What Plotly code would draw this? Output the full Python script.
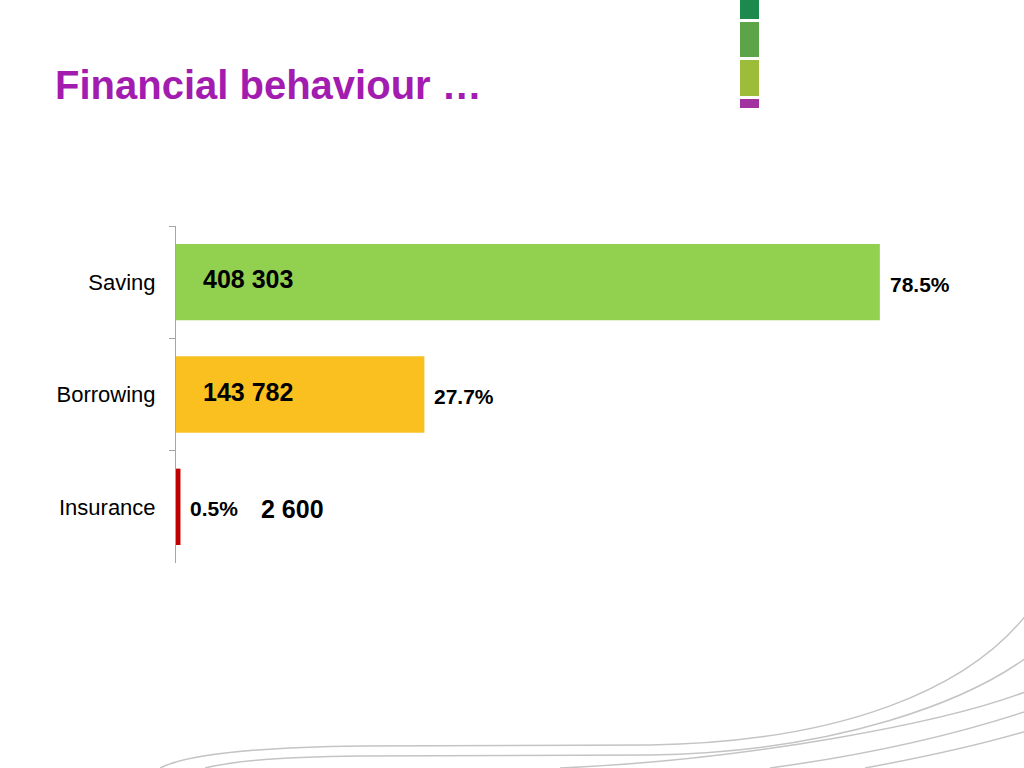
import plotly.graph_objects as go

# данные
categories = ["Saving", "Borrowing", "Insurance"]
shares = [78.5, 27.7, 0.5]
share_labels = ["78.5%", "27.7%", "0.5%"]
counts = ["408 303", "143 782", "2 600"]
bar_colors = ["#92D050", "#F9C01F", "#C00000"]

W, H = 1024, 768
L, R, T, B = 176, 24, 226, 205


# пиксели -> координаты paper
def px(x):
    return (x - L) / (W - L - R)


def py(y):
    return (H - B - y) / (H - T - B)


def path_from(points):
    cmd, *rest = points
    s = "M %.4f,%.4f" % (px(cmd[0]), py(cmd[1]))
    for seg in rest:
        letter, pts = seg[0], seg[1:]
        s += " " + letter + " " + " ".join("%.4f,%.4f" % (px(a), py(b)) for a, b in pts)
    return s


fig = go.Figure()

fig.add_trace(go.Bar(
    y=categories,
    x=shares,
    orientation="h",
    marker=dict(color=bar_colors, line=dict(width=0)),
    width=0.68,
    hoverinfo="skip",
))

# подписи: проценты справа от столбца
for cat, val, lab in zip(categories, shares, share_labels):
    fig.add_annotation(x=val, y=cat, text="<b>%s</b>" % lab, showarrow=False,
                       xanchor="left", yanchor="middle", xshift=8, yshift=-2,
                       font=dict(family="Liberation Sans", size=21, color="black"))

# подписи: количество
count_shift = [25, 25, 83]
for cat, cnt, sh in zip(categories, counts, count_shift):
    fig.add_annotation(x=0, y=cat, text="<b>%s</b>" % cnt, showarrow=False,
                       xanchor="left", yanchor="middle", xshift=sh, yshift=3 if sh < 50 else -2,
                       font=dict(family="Liberation Sans", size=25, color="black"))

# заголовок
fig.add_annotation(xref="paper", yref="paper", x=px(53), y=py(85), text="<b>Financial behaviour …</b>",
                   showarrow=False, xanchor="left", yanchor="middle",
                   font=dict(family="Liberation Sans", size=40, color="#A21CAF"))

shapes = []
# квадраты в правом верхнем углу
for y0, y1, c in [(0, 19, "#1B8A4C"), (22, 57, "#5DA347"), (60, 96, "#9DBC3A"), (99, 108, "#A2329F")]:
    shapes.append(dict(type="rect", xref="paper", yref="paper", x0=px(740), x1=px(759),
                       y0=py(y1), y1=py(y0), fillcolor=c, line=dict(width=0), layer="above"))

# декоративные кривые внизу
curves = [
    [(160, 768), ("Q", (200, 748), (360, 746)), ("L", (650, 745)), ("C", (840, 742), (970, 690), (1030, 610))],
    [(205, 768), ("Q", (250, 757), (360, 756)), ("L", (650, 755)), ("C", (840, 752), (970, 700), (1030, 655))],
    [(560, 768), ("C", (750, 760), (950, 722), (1030, 690))],
    [(770, 768), ("C", (880, 753), (970, 730), (1030, 710))],
    [(865, 768), ("C", (930, 756), (990, 742), (1030, 730))],
]
for c in curves:
    shapes.append(dict(type="path", xref="paper", yref="paper", path=path_from(c),
                       line=dict(color="#C4C4C4", width=1.5)))

fig.update_layout(
    width=W, height=H,
    margin=dict(l=L, r=R, t=T, b=B),
    paper_bgcolor="white",
    plot_bgcolor="white",
    showlegend=False,
    shapes=shapes,
    font=dict(family="Liberation Sans"),
    xaxis=dict(range=[0, 91.9], visible=False, fixedrange=True),
    yaxis=dict(
        categoryorder="array", categoryarray=categories, autorange="reversed",
        showline=True, linecolor="#A6A6A6", linewidth=1,
        ticks="outside", tickson="boundaries", ticklen=6, tickcolor="#A6A6A6",
        ticklabelstandoff=15,
        tickfont=dict(family="Liberation Sans", size=22, color="black"),
        showgrid=False, zeroline=False, fixedrange=True,
    ),
)

# убрать отступ body, чтобы рисунок начинался с (0, 0)
fig.write_html("out.html", config={"displayModeBar": False},
               post_script="document.body.style.margin='0';")
